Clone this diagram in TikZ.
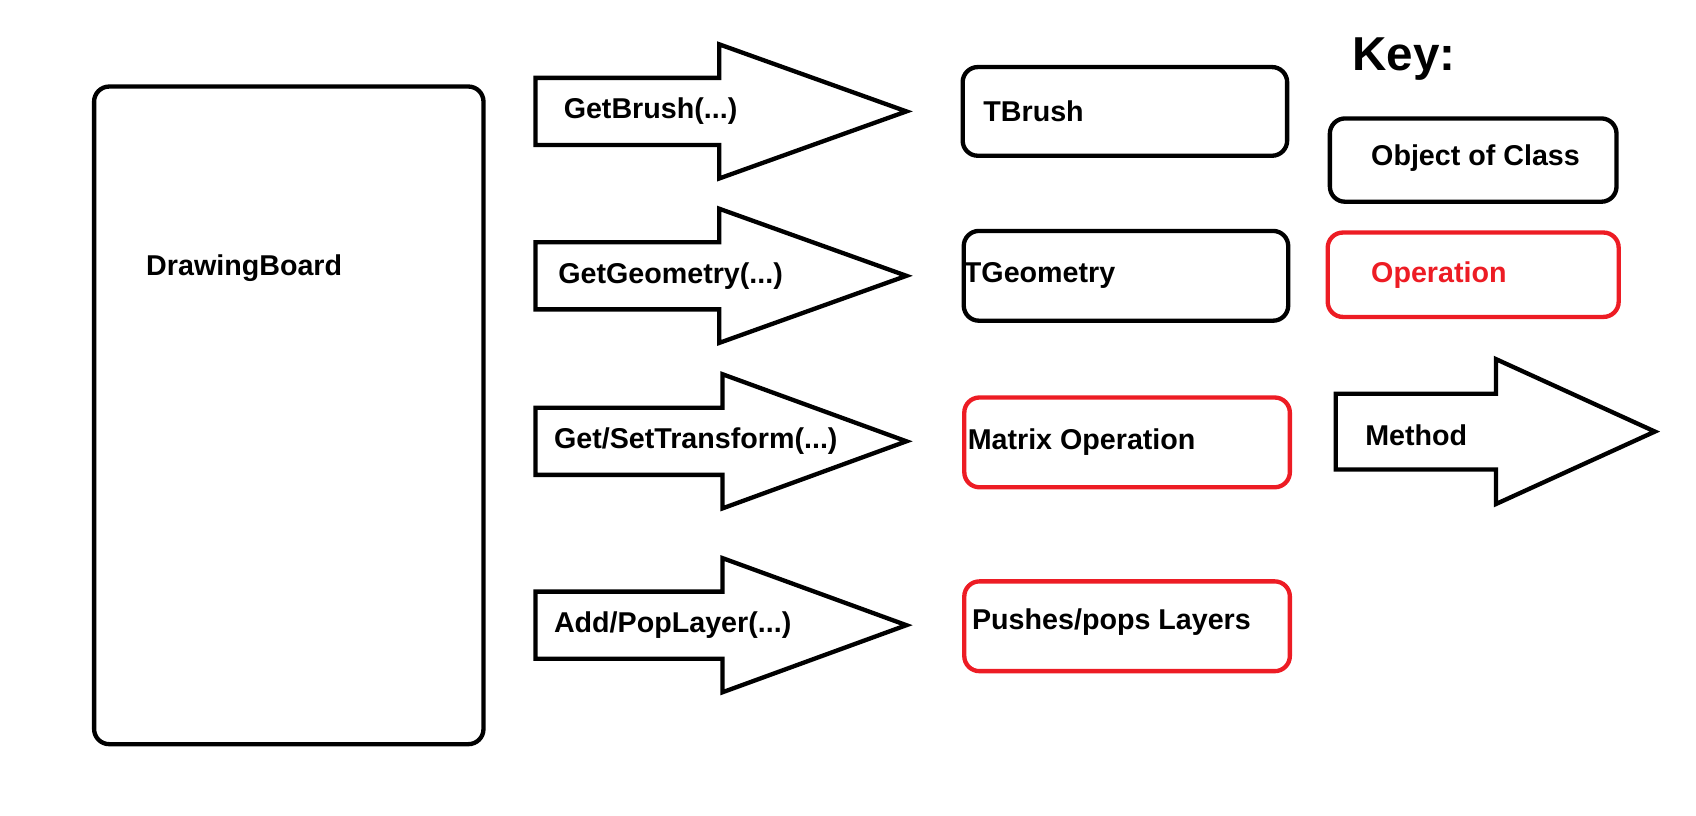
\documentclass[tikz,border=0pt]{standalone}
\usepackage{fontspec}
\setmainfont{Liberation Sans}
\usetikzlibrary{positioning}
\definecolor{opred}{HTML}{ED1C24}
\tikzset{
  clsbox/.style = { draw, line width=4pt, rounded corners=14pt },
  opbox/.style  = { clsbox, draw=opred },
  mthd/.style   = { draw, line width=4pt, line join=miter },
  lbl/.style    = { anchor=west, inner sep=0pt, font=\fontsize{26.5}{32}\selectfont\bfseries }
}
\begin{document}
\begin{tikzpicture}[x=1pt,y=-1pt]
    \useasboundingbox (0,0) rectangle (1568,754);
    % caller
    \node[clsbox, minimum width=360pt, minimum height=608pt] (board) at (267,384) {};
    \node[lbl] (boardlbl) at (135,248) {DrawingBoard};
    % methods: y / head base / label x / label
    \foreach \y/\hb/\lx/\txt [count=\i] in {103/665/521/{GetBrush(...)},
        255/665/516/{GetGeometry(...)}, 408/668/512/{Get/SetTransform(...)},
        578/668/512/{Add/PopLayer(...)}} {
      \draw[mthd] (495,\y-31) -- (\hb,\y-31) -- (\hb,\y-62) -- (838,\y)
        -- (\hb,\y+62) -- (\hb,\y+31) -- (495,\y+31) -- cycle;
      \node[lbl] (m\i) at (\lx,\y) {\txt};
    }
    % results
    \node[clsbox, minimum width=300pt, minimum height=82pt] (tbrush) at (1040,103) {};
    \node[lbl, right=21pt of tbrush.west] (tbrushlbl) {TBrush};
    \node[clsbox, minimum width=300pt, minimum height=83pt] (tgeom) at (1041,255) {};
    \node[lbl, right=2pt of tgeom.west] (tgeomlbl) {TGeometry};
    \node[opbox, minimum width=301pt, minimum height=83pt] (matop) at (1042,409) {};
    \node[lbl, right=5pt of matop.west] (matoplbl) {Matrix Operation};
    \node[opbox, minimum width=301pt, minimum height=83pt] (layers) at (1042,579) {};
    \node[lbl, right=9pt of layers.west, yshift=4pt] (layerslbl) {Pushes/pops Layers};
    % key
    \node[anchor=west, inner sep=0pt, font=\fontsize{44}{50}\selectfont\bfseries]
      (key) at (1250,55) {Key:};
    \node[clsbox, minimum width=265pt, minimum height=77pt] (keycls) at (1362,148) {};
    \node[lbl, right=40pt of keycls.west, yshift=2pt] (keycllbl) {Object of Class};
    \node[opbox, minimum width=269pt, minimum height=78pt] (keyop) at (1362,254) {};
    \node[lbl, right=42pt of keyop.west, text=opred] (keyoplbl) {Operation};
    \draw[mthd] (1235,364) -- (1383,364) -- (1383,332) -- (1530,399)
      -- (1383,466) -- (1383,434) -- (1235,434) -- cycle;
    \node[lbl] (keymth) at (1262,402) {Method};
\end{tikzpicture}
\end{document}
